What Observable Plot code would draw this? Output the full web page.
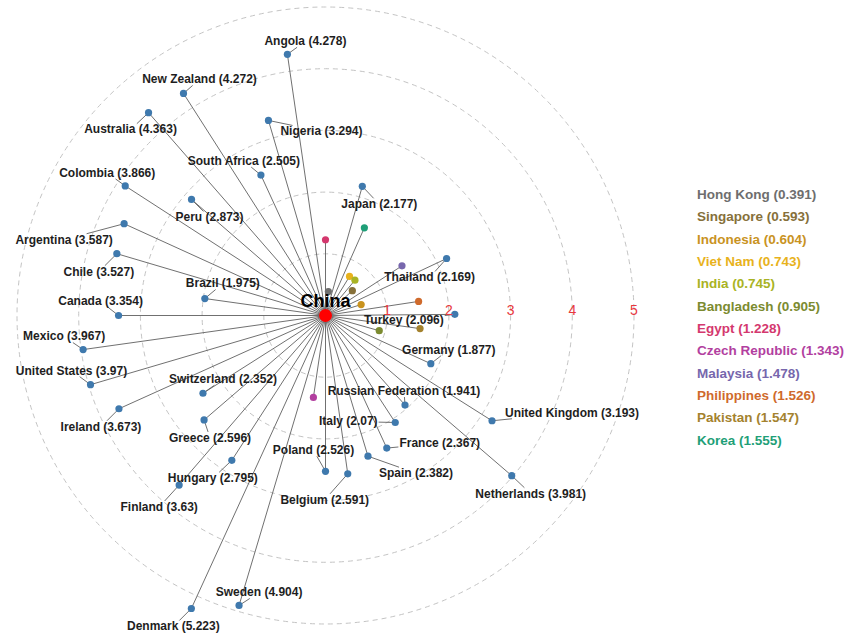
<!DOCTYPE html>
<html>
<head>
<meta charset="utf-8">
<script src="https://cdn.jsdelivr.net/npm/d3@7"></script>
<script src="https://cdn.jsdelivr.net/npm/@observablehq/plot@0.6"></script>
<style>
  html, body { margin: 0; padding: 0; background: #fff; }
  #wrap { position: relative; width: 847px; height: 634px; overflow: hidden; }
  #legend { position: absolute; left: 697px; top: 184px; font: bold 13.5px "Liberation Sans", Arial, sans-serif; line-height: 22.35px; white-space: nowrap; }
</style>
</head>
<body>
<div id="wrap"><div id="legend"></div></div>
<script>
// Outer partners: name, distance from China, bearing in degrees (clockwise from north)
const partners = ["Angola","New Zealand","Australia","Nigeria","South Africa","Colombia","Peru","Japan",
  "Argentina","Chile","Thailand","Brazil","Canada","Turkey","Mexico","Germany","United States",
  "Switzerland","Russian Federation","Ireland","United Kingdom","Greece","Italy","France","Hungary",
  "Spain","Poland","Belgium","Netherlands","Finland","Sweden","Denmark"];
const distances = [4.278,4.272,4.363,3.294,2.505,3.866,2.873,2.177,
  3.587,3.527,2.169,1.975,3.354,2.096,3.967,1.877,3.97,
  2.352,1.941,3.673,3.193,2.596,2.07,2.367,2.795,
  2.382,2.526,2.591,3.981,3.63,4.904,5.223];
const bearings = [351.7,327.4,318.9,343.7,335.3,302.9,310.9,15.9,
  294.5,286.5,64.8,278.0,270.0,89.5,262.0,114.6,253.6,
  237.6,138.4,245.7,122.3,229.3,146.9,155.2,212.9,
  163.2,180.0,172.0,130.7,220.8,196.6,204.6];

// Near partners, listed on the right with their own colours
const nearNames = ["Hong Kong","Singapore","Indonesia","Viet Nam","India","Bangladesh","Egypt",
  "Czech Republic","Malaysia","Philippines","Pakistan","Korea"];
const nearDistances = [0.391,0.593,0.604,0.743,0.745,0.905,1.228,1.343,1.478,1.526,1.547,1.555];
const nearBearings = [6.8,47.2,73.0,31.6,39.8,105.8,0,188.4,57.0,81.4,97.9,23.9];
const nearColors = ["#6e6e6e","#86703a","#c9931f","#e8b21c","#a9b324","#7c8b30","#d4386e",
  "#b23f9f","#7767ad","#cf6a2c","#a4822e","#1f9f78"];

const rings = [1, 2, 3, 4, 5];

// Label placement around each outer node, in pixels (centre of text relative to the dot)
const labelShift = {
  "Angola":[18,-13],"New Zealand":[16,-14],"Australia":[-18,17],"Nigeria":[53,11],
  "South Africa":[-17,-14],"Colombia":[-18,-13],"Peru":[18,18],"Japan":[17,18],
  "Argentina":[-60,16],"Chile":[-18,18],"Thailand":[-17,19],"Brazil":[18,-15],
  "Canada":[-18,-14],"Turkey":[-51,6],"Mexico":[-19,-13],"Germany":[18,-14],
  "United States":[-19,-14],"Switzerland":[20,-14],"Russian Federation":[-1,-14],
  "Ireland":[-18,18],"United Kingdom":[80,-8],"Greece":[6,18],"Italy":[-47,-1],
  "France":[53,-5],"Hungary":[-19,18],"Spain":[48,17],"Poland":[-12,-21],
  "Belgium":[-23,26],"Netherlands":[19,18],"Finland":[-20,22],"Sweden":[20,-13],
  "Denmark":[-18,18]
};

const PX = 61.7;          // pixels per unit of distance
const W = 847, H = 634;
const CX = 325, CY = 315; // where China sits

const rad = d => d * Math.PI / 180;
const outer = partners.map((name, i) => {
  const v = distances[i], a = rad(bearings[i]);
  return {name, value: v, x: v * Math.sin(a), y: v * Math.cos(a), label: `${name} (${distances[i]})`};
});
const near = nearNames.map((name, i) => {
  const v = nearDistances[i], a = rad(nearBearings[i]);
  return {name, value: v, color: nearColors[i], x: v * Math.sin(a), y: v * Math.cos(a)};
});

// text widths for the leader segments
const ctx = document.createElement("canvas").getContext("2d");
ctx.font = 'bold 12px "Liberation Sans", Arial, sans-serif';

const labels = outer.map(d => {
  const [ox, oy] = labelShift[d.name];
  const hw = ctx.measureText(d.label).width / 2 + 1, hh = 6;
  // the leader runs from the dot toward the label centre and stops at the label box
  const s = Math.min(ox ? hw / Math.abs(ox) : Infinity, oy ? hh / Math.abs(oy) : Infinity);
  const k = Math.max(0, 1 - s);
  const nx = k * ox, ny = k * oy;
  return {
    ...d,
    lx: d.x + ox / PX, ly: d.y - oy / PX,
    ex: d.x + nx / PX, ey: d.y - ny / PX,
    lead: Math.hypot(nx, ny) > 3
  };
});

const allNodes = [...outer, ...near];

const chart = Plot.plot({
  width: W,
  height: H,
  margin: 0,
  x: {domain: [-CX / PX, (W - CX) / PX], axis: null},
  y: {domain: [-(H - CY) / PX, CY / PX], axis: null},
  r: {type: "linear", domain: [0, 5], range: [0, 5 * PX]},
  style: {background: "#fff", fontFamily: '"Liberation Sans", Arial, sans-serif'},
  marks: [
    // distance rings
    Plot.dot(rings, {x: 0, y: 0, r: d => d, fill: "none", stroke: "#c4c4c4", strokeWidth: 1, strokeDasharray: "5,4"}),
    // ties from China to each partner
    Plot.link(allNodes, {x1: 0, y1: 0, x2: "x", y2: "y", stroke: "#606060", strokeWidth: 0.9}),
    // leader segments to the labels
    Plot.link(labels.filter(d => d.lead), {x1: "x", y1: "y", x2: "ex", y2: "ey", stroke: "#606060", strokeWidth: 0.9}),
    Plot.dot(outer, {x: "x", y: "y", r: 3.6, fill: "#3f79ad"}),
    Plot.dot(near, {x: "x", y: "y", r: 3.6, fill: "color"}),
    Plot.dot([0], {x: 0, y: 0, r: 6.5, fill: "#ff0000"}),
    Plot.text(labels, {x: "lx", y: "ly", text: "label", fontSize: 12, fontWeight: "bold", fill: "#1e1e1e", textAnchor: "middle", lineAnchor: "middle"}),
    Plot.text(["China"], {x: 0, y: 0, text: d => d, dy: -14, fontSize: 18, fontWeight: "bold", fill: "#000", textAnchor: "middle", lineAnchor: "middle"}),
    // ring values
    Plot.text(rings, {x: d => d, y: 0, text: d => String(d), dy: -5, fontSize: 14, fill: "#e8383d", textAnchor: "middle", lineAnchor: "middle"})
  ]
});

const wrap = document.getElementById("wrap");
wrap.insertBefore(chart, wrap.firstChild);

const legend = d3.select("#legend");
legend.selectAll("div").data(near).join("div")
  .style("color", d => d.color)
  .text(d => `${d.name} (${d.value})`);
</script>
</body>
</html>
